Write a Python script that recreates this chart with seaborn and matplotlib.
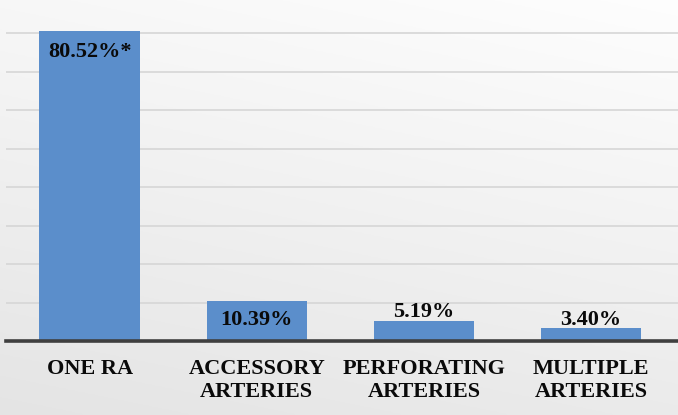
import numpy as np
import pandas as pd
import matplotlib
matplotlib.use("Agg")
import matplotlib.pyplot as plt
import seaborn as sns

categories = ["ONE RA", "ACCESSORY\nARTERIES", "PERFORATING\nARTERIES", "MULTIPLE\nARTERIES"]
values = [80.52, 10.39, 5.19, 3.40]
value_labels = ["80.52%*", "10.39%", "5.19%", "3.40%"]

sns.set_theme(style="white")
plt.rcParams['font.family'] = ['Liberation Serif', 'DejaVu Serif']

fig = plt.figure(figsize=(6.78, 4.15), dpi=100)

# gradient background
bg = fig.add_axes([0, 0, 1, 1], zorder=0)
yy, xx = np.mgrid[0:1:200j, 0:1:300j]
t = 0.75 * yy + 0.25 * (1 - xx)  # 0 top-right .. 1 bottom-left
shade = 0.995 - 0.10 * t
bg.imshow(np.dstack([shade, shade, shade]), aspect='auto', extent=[0, 1, 0, 1], origin='upper')
bg.set_axis_off()

ax = fig.add_axes([6 / 678, 74 / 415, 1 - 6 / 678, 341 / 415], zorder=1)
ax.patch.set_alpha(0)

df = pd.DataFrame({"cat": categories, "val": values})
sns.barplot(data=df, x="cat", y="val", color="#5b8ecb", saturation=1, width=0.6,
            linewidth=0, edgecolor="none", ax=ax, zorder=3)

ax.set_xlim(-0.5, 3.52)
ax.set_ylim(0, 88.6)
ax.set_yticks(np.arange(10, 90, 10))
ax.yaxis.grid(True, color="#d6d6d6", linewidth=1.2, zorder=0)
ax.set_axisbelow(True)
ax.tick_params(axis='y', left=False, labelleft=False)
ax.tick_params(axis='x', bottom=False, pad=7)
for s in ["top", "right", "left"]:
    ax.spines[s].set_visible(False)
ax.spines["bottom"].set_color("#3f3f3f")
ax.spines["bottom"].set_linewidth(2.6)
ax.spines["bottom"].set_zorder(5)
ax.set_xlabel("")
ax.set_ylabel("")
for lab in ax.get_xticklabels():
    lab.set_fontsize(16)
    lab.set_fontweight("bold")
    lab.set_color("#0a0a0a")
    lab.set_linespacing(1.2)

offsets = [-21, -19, 9, 8]
for i, (v, txt) in enumerate(zip(values, value_labels)):
    ax.annotate(txt, xy=(i, v), xytext=(0, offsets[i]), textcoords="offset pixels",
                ha="center", va="center", fontsize=16, fontweight="bold", color="#0a0a0a", zorder=6)

fig.savefig("out.png", dpi=100)
